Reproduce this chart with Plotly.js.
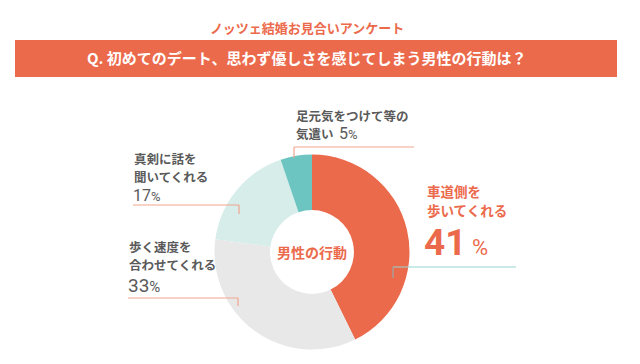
<!DOCTYPE html>
<html><head><meta charset="utf-8">
<script src="https://cdn.plot.ly/plotly-3.0.1.min.js"></script>
<style>html,body{margin:0;padding:0;background:#fff}#c{width:640px;height:364px}</style>
</head><body><div id="c"></div>
<script>
var categories = ["車道側を歩いてくれる", "歩く速度を合わせてくれる", "真剣に話を聞いてくれる", "足元気をつけて等の気遣い"];
var values = [41, 33, 17, 5];
var sliceColors = ["#EC6A4C", "#E8E8E8", "#D6EDEA", "#6CC5C0"];
var labelLines = [["車道側を", "歩いてくれる"], ["歩く速度を", "合わせてくれる"], ["真剣に話を", "聞いてくれる"], ["足元気をつけて等の", "気遣い"]];
var subtitle = "ノッツェ結婚お見合いアンケート";
var question = "Q. 初めてのデート、思わず優しさを感じてしまう男性の行動は？";
var centerLabel = "男性の行動";

var W = 640, H = 364;
function px(x){return x/W;}
function py(y){return 1 - y/H;}
var FONT = "Noto Sans CJK JP";
var NUM = "Roboto";
var GRAY = "#5a5a5a", ORANGE = "#EC6A4C";

var trace = {
  type: "pie", values: values, labels: categories, sort: false, direction: "clockwise", rotation: 0,
  hole: 0.43, marker: {colors: sliceColors, line: {width: 0}}, textinfo: "none", hoverinfo: "none",
  domain: {x: [px(312-97.5), px(312+97.5)], y: [py(252+97.5), py(252-97.5)]}, showlegend: false
};

function ann(x, y, text, size, color, anchor, bold, family){
  return {xref: "paper", yref: "paper", x: px(x), y: py(y), text: bold ? "<b>"+text+"</b>" : text, showarrow: false,
    xanchor: anchor || "left", yanchor: "middle", align: "left", borderpad: 0,
    font: {family: family || FONT, size: size, color: color}};
}
function pct(v, small){return v + "<span style='font-size:" + small + "px'>%</span>";}

var annotations = [
  ann(307, 28, subtitle, 13, ORANGE, "center", true),
  ann(307, 58, question, 15, "#ffffff", "center", true),
  ann(312, 252, centerLabel, 14, ORANGE, "center", true),
  // 41%
  ann(426, 191, labelLines[0][0], 13.5, ORANGE, "left", true),
  ann(426, 210, labelLines[0][1], 13.5, ORANGE, "left", true),
  ann(423, 242, "<b>" + values[0] + "</b><span style='font-size:22px'> %</span>", 37, ORANGE, "left", false, NUM),
  // 33%
  ann(128, 246, labelLines[1][0], 12.5, GRAY, "left", true),
  ann(128, 264, labelLines[1][1], 12.5, GRAY, "left", true),
  ann(127, 285, pct(values[1], 15), 19, GRAY, "left", false, NUM),
  // 17%
  ann(133, 158, labelLines[2][0], 12.5, GRAY, "left", true),
  ann(133, 176, labelLines[2][1], 12.5, GRAY, "left", true),
  ann(132, 195, pct(values[2], 13), 16, GRAY, "left", false, NUM),
  // 5%
  ann(295, 115, labelLines[3][0], 12.5, GRAY, "left", true),
  ann(295, 133, labelLines[3][1], 12.5, GRAY, "left", true),
  ann(338, 133, pct(values[3], 13), 16, GRAY, "left", false, NUM)
];

function line(x0, y0, x1, y1, color){
  return {type: "line", xref: "paper", yref: "paper", x0: px(x0), y0: py(y0), x1: px(x1), y1: py(y1), line: {color: color, width: 1.2}};
}
var SAL = "#F2A490", TEAL = "#93D5D0";
var shapes = [
  {type: "rect", xref: "paper", yref: "paper", x0: px(15), x1: px(617), y0: py(77), y1: py(40), fillcolor: ORANGE, line: {width: 0}, layer: "below"},
  line(294, 147, 414, 147, SAL), line(294, 147, 294, 158, SAL),
  line(133, 205, 239, 205, SAL), line(239, 205, 239, 214, SAL),
  line(128, 298, 238, 298, SAL), line(238, 298, 238, 306, SAL),
  line(393, 267, 516, 267, TEAL), line(393, 267, 393, 278, "#9aa9a8")
];

Plotly.newPlot("c", [trace], {
  width: W, height: H, margin: {l: 0, r: 0, t: 0, b: 0}, paper_bgcolor: "#fff", plot_bgcolor: "#fff",
  annotations: annotations, shapes: shapes, font: {family: FONT}
}, {staticPlot: true});
</script></body></html>
